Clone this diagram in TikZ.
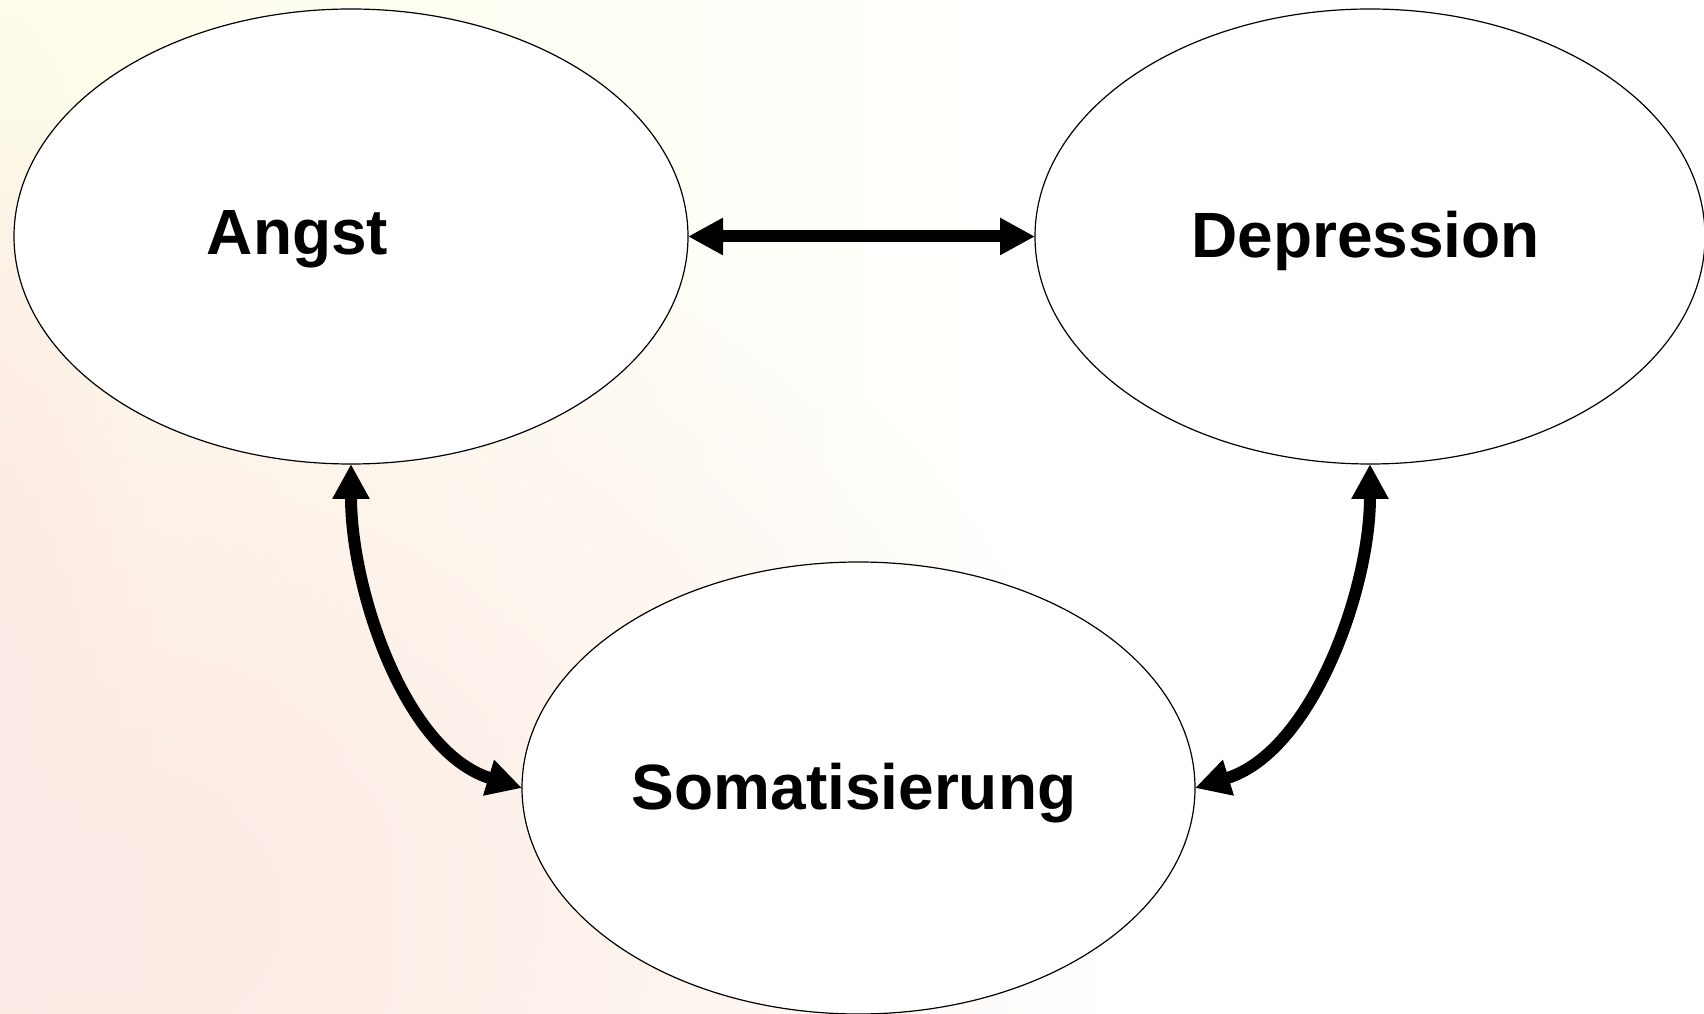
\documentclass[tikz,border=0pt]{standalone}
\usepackage{fontspec}
\setmainfont{Liberation Sans}
\usetikzlibrary{shapes.geometric,arrows.meta,fadings}
\definecolor{bgpink}{RGB}{252,232,228}
\definecolor{bgyellow}{RGB}{254,253,234}
\tikzfading[name=softblob, inner color=transparent!0, outer color=transparent!100]
\begin{document}
\begin{tikzpicture}[x=0.5pt,y=0.5pt,
  ell/.style={ellipse, draw=black, line width=0.6pt, fill=white, inner sep=0pt, outer sep=0pt},
  lbl/.style={font=\fontsize{32}{38}\selectfont\bfseries, inner sep=0pt, anchor=base},
  conn/.style={line width=6pt, {Triangle[length=17.5pt,width=17.5pt]}-{Triangle[length=17.5pt,width=17.5pt]}}]
% background
\fill[white] (0,0) rectangle (1704,1013);
\useasboundingbox (0,0) rectangle (1704,1013);
\shade[left color=bgyellow, right color=white] (0,0) rectangle (1100,1013);
\begin{scope}
\clip (0,0) rectangle (1704,1013);
\fill[bgpink, path fading=softblob] (-900,-700) rectangle (1100,900);
\fill[bgpink, path fading=softblob] (-150,-400) rectangle (150,1000);
\end{scope}
% nodes
\node[ell, minimum width=337pt, minimum height=227.5pt] (A) at (351,776.5) {};
\node[ell, minimum width=335pt, minimum height=227.5pt] (D) at (1370,776.5) {};
\node[ell, minimum width=336.5pt, minimum height=226pt] (S) at (858.5,225) {};
\node[lbl] (tA) at (297.5,758) {Angst};
\node[lbl] (tD) at (1365.5,755.5) {Depression};
\node[lbl] (tS) at (854,203.5) {Somatisierung};
% connectors
\draw[conn] (A.east) -- (D.west);
\draw[conn] (A.south) .. controls +(0,-126) and +(-117,36) .. (S.west);
\draw[conn] (D.south) .. controls +(0,-126) and +(117,36) .. (S.east);
\end{tikzpicture}
\end{document}
